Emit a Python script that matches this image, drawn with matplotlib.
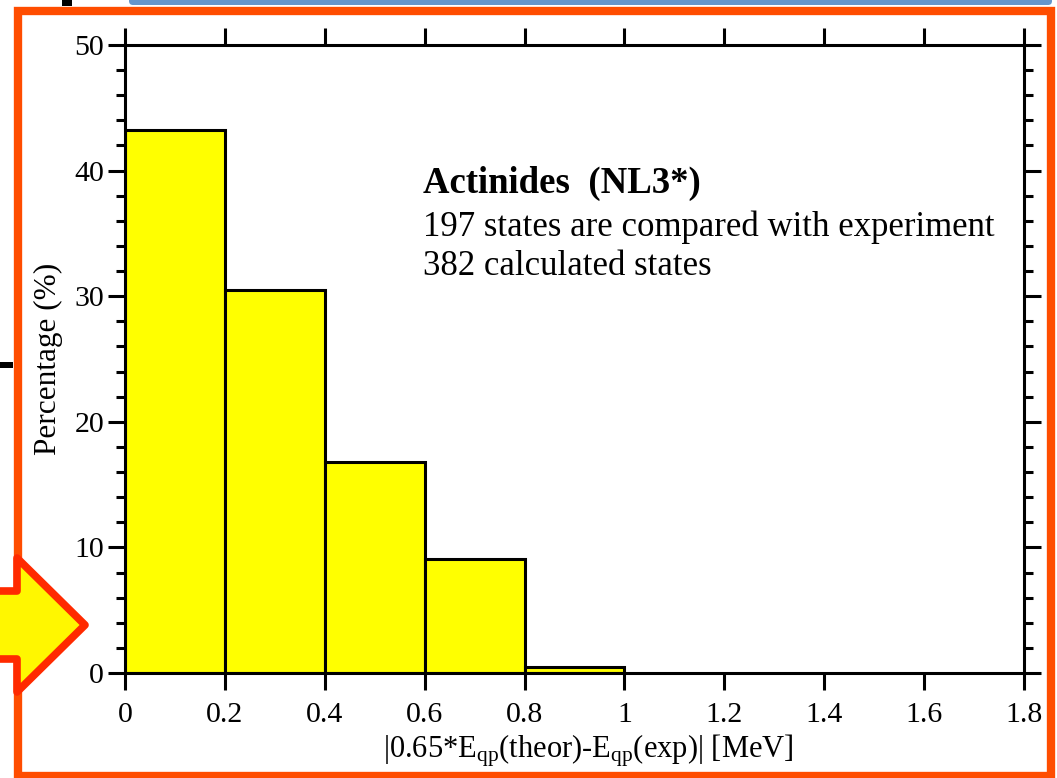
import matplotlib
matplotlib.use("Agg")
import matplotlib.pyplot as plt
from matplotlib.patches import Rectangle, Polygon, FancyBboxPatch
from matplotlib.ticker import MultipleLocator, FuncFormatter

# Histogram of |0.65*E_qp(theor) - E_qp(exp)| for actinide states
bin_left = [0.0, 0.2, 0.4, 0.6, 0.8]
bin_width = 0.2
percentage = [43.2, 30.5, 16.8, 9.1, 0.5]

x_ticks = [0, 0.2, 0.4, 0.6, 0.8, 1.0, 1.2, 1.4, 1.6, 1.8]
y_ticks = [0, 10, 20, 30, 40, 50]

title_text = "Actinides  (NL3*)"
info_lines = ["197 states are compared with experiment", "382 calculated states"]

plt.rcParams["font.family"] = ["Liberation Serif", "DejaVu Serif"]
plt.rcParams["mathtext.fontset"] = "custom"
plt.rcParams["mathtext.rm"] = "Liberation Serif"
plt.rcParams["mathtext.it"] = "Liberation Serif:italic"

W, H = 1057, 778
fig = plt.figure(figsize=(W / 100, H / 100), dpi=100)
fig.patch.set_facecolor("white")

# decorative layer in pixel coordinates
deco = fig.add_axes([0, 0, 1, 1], zorder=0)
deco.set_xlim(0, W)
deco.set_ylim(H, 0)
deco.axis("off")

# orange frame
deco.add_patch(Rectangle((17.5, 11), 1033, 765, fill=False,
                         edgecolor="#FF4D00", linewidth=6))
# blue bar along the top
deco.add_patch(FancyBboxPatch((129, -10), 923, 15,
                              boxstyle="round,pad=0,rounding_size=4",
                              facecolor="#6596CC", edgecolor="none"))
# small black marks
deco.add_patch(Rectangle((62, 0), 10, 6, facecolor="black", edgecolor="none"))
deco.add_patch(Rectangle((0, 362), 13, 6, facecolor="black", edgecolor="none"))
# yellow arrow
arrow_pts = [(-10, 591), (17, 591), (17, 558), (85, 625),
             (17, 692), (17, 659), (-10, 659)]
deco.add_patch(Polygon(arrow_pts, closed=True, facecolor="#FFF700",
                       edgecolor="#FF2A00", linewidth=5.5, joinstyle="round"))

# main histogram axes
ax = fig.add_axes([125 / W, 1 - 673 / H, (1024 - 125) / W, (673 - 45) / H], zorder=1)
ax.set_facecolor("none")
ax.bar(bin_left, percentage, width=bin_width, align="edge",
       color="#FFFF00", edgecolor="black", linewidth=2.2, zorder=2)

ax.set_xlim(0, 1.8)
ax.set_ylim(0, 50)
ax.set_xticks(x_ticks)
ax.set_yticks(y_ticks)
ax.xaxis.set_major_formatter(FuncFormatter(lambda v, p: "%g" % v))
ax.yaxis.set_minor_locator(MultipleLocator(2))

for s in ax.spines.values():
    s.set_linewidth(2.2)
    s.set_zorder(3)

ax.tick_params(axis="both", which="major", direction="out", length=12,
               width=2.2, labelsize=21.5, top=True, right=True)
ax.tick_params(axis="x", which="major", pad=9)
ax.tick_params(axis="y", which="major", pad=3)
ax.tick_params(axis="y", which="minor", direction="out", length=6.5,
               width=2.2, right=True, left=True)

ax.set_ylabel("Percentage (%)", fontsize=22.5, labelpad=8)
ax.set_xlabel(r"|0.65*E$_{\mathrm{qp}}$(theor)-E$_{\mathrm{qp}}$(exp)| [MeV]",
              fontsize=22, labelpad=0)
ax.xaxis.set_label_coords(0.515, -0.095)

ax.text(0.331, 0.779, title_text, transform=ax.transAxes, fontsize=26.5,
        fontweight="bold", va="center", ha="left")
ax.text(0.331, 0.710, info_lines[0], transform=ax.transAxes, fontsize=25,
        va="center", ha="left")
ax.text(0.331, 0.648, info_lines[1], transform=ax.transAxes, fontsize=25,
        va="center", ha="left")

fig.savefig("out.png", dpi=100)
